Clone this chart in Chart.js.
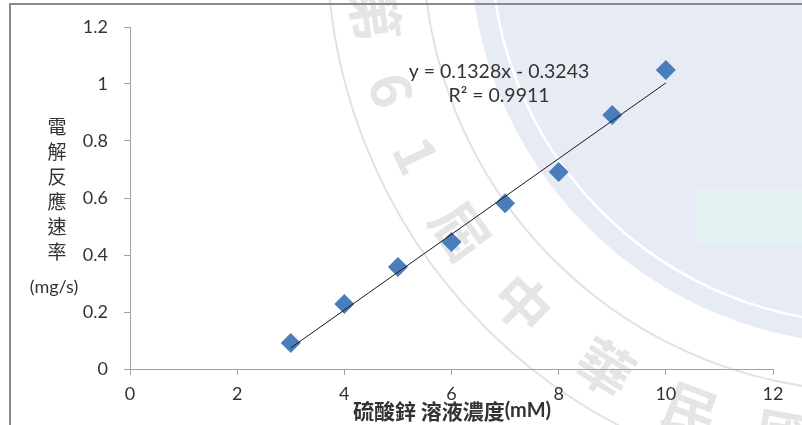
<!DOCTYPE html>
<html>
<head>
<meta charset="utf-8">
<script src="https://cdn.jsdelivr.net/npm/chart.js@4/dist/chart.umd.min.js"></script>
<style>
  html, body { margin: 0; padding: 0; background: #fff; }
  #wrap { width: 802px; height: 425px; }
</style>
</head>
<body>
<div id="wrap"><canvas id="chart" width="802" height="425"></canvas></div>
<script>
// zinc sulfate concentration (mM) vs. electrolysis rate (mg/s)
const concentration = [3, 4, 5, 6, 7, 8, 9, 10];
const rateValues = [0.091, 0.228, 0.358, 0.446, 0.582, 0.691, 0.891, 1.049];

// linear trendline reported on the chart
const slope = 0.1328;
const intercept = -0.3243;
const rSquared = 0.9911;
const trendRange = [3, 10];

const xTickValues = [0, 2, 4, 6, 8, 10, 12];
const xTickLabels = ['0', '2', '4', '6', '8', '10', '12'];
const yTickValues = [0, 0.2, 0.4, 0.6, 0.8, 1, 1.2];
const yTickLabels = ['0', '0.2', '0.4', '0.6', '0.8', '1', '1.2'];

const yTitleChars = ['電', '解', '反', '應', '速', '率'];
const yTitleUnit = '(mg/s)';
const xTitle = '硫酸鋅 溶液濃度';
const xTitleUnit = '(mM)';

// background seal
const sealChars = ['第', '6', '1', '屆', '中', '華', '民', '國'];
const sealAngles = [172, 163, 155, 145, 134, 122, 111, 100];

const axisGray = '#a3a3a3';
const textColor = '#333333';
const numFont = 'Lato, "Open Sans", sans-serif';
const cjkFont = '"Noto Sans CJK TC", "Noto Sans CJK SC", sans-serif';

const points = concentration.map((x, i) => ({ x: x, y: rateValues[i] }));
const trendPoints = trendRange.map(x => ({ x: x, y: slope * x + intercept }));

const backdrop = {
  id: 'backdrop',
  beforeDraw(chart) {
    const ctx = chart.ctx;
    ctx.save();
    ctx.fillStyle = '#fff';
    ctx.fillRect(0, 0, chart.width, chart.height);

    const cx = 870, cy = -56;
    ctx.beginPath();
    ctx.arc(cx, cy, 400, 0, Math.PI * 2);
    ctx.fillStyle = '#e7ebf4';
    ctx.fill();

    ctx.beginPath();
    ctx.arc(cx, cy, 379, 0, Math.PI * 2);
    ctx.strokeStyle = '#ffffff';
    ctx.lineWidth = 2.5;
    ctx.stroke();

    ctx.strokeStyle = '#dfe2ea';
    ctx.lineWidth = 2;
    [447, 543].forEach(r => {
      ctx.beginPath();
      ctx.arc(cx, cy, r, 0, Math.PI * 2);
      ctx.stroke();
    });

    ctx.fillStyle = '#e4f2f2';
    ctx.fillRect(697, 189, 110, 54);

    ctx.fillStyle = 'rgba(0,0,0,0.1)';
    ctx.font = 'bold 56px ' + cjkFont;
    ctx.textAlign = 'center';
    ctx.textBaseline = 'middle';
    sealChars.forEach((ch, i) => {
      const a = sealAngles[i] * Math.PI / 180;
      ctx.save();
      ctx.translate(cx + Math.cos(a) * 500, cy + Math.sin(a) * 500);
      ctx.rotate(a - Math.PI / 2);
      ctx.fillText(ch, 0, 0);
      ctx.restore();
    });
    ctx.restore();
  },
  afterDraw(chart) {
    const ctx = chart.ctx;
    ctx.save();
    // frame
    ctx.strokeStyle = '#8a8a8a';
    ctx.lineWidth = 2;
    ctx.beginPath();
    ctx.moveTo(10, 430);
    ctx.lineTo(10, 4);
    ctx.lineTo(810, 4);
    ctx.stroke();

    ctx.fillStyle = textColor;
    ctx.textAlign = 'center';
    ctx.textBaseline = 'middle';

    // y title, stacked characters
    ctx.font = '19px ' + cjkFont;
    yTitleChars.forEach((ch, i) => ctx.fillText(ch, 57, 127 + i * 25));
    ctx.font = '18px ' + numFont;
    ctx.fillText(yTitleUnit, 54, 287);

    // x title
    ctx.textAlign = 'left';
    ctx.font = 'bold 21px ' + cjkFont;
    const w1 = ctx.measureText(xTitle).width;
    ctx.font = 'bold 20px ' + numFont;
    const w2 = ctx.measureText(xTitleUnit).width;
    const x0 = 452 - (w1 + w2) / 2;
    ctx.font = 'bold 21px ' + cjkFont;
    ctx.fillText(xTitle, x0, 411);
    ctx.font = 'bold 20px ' + numFont;
    ctx.fillText(xTitleUnit, x0 + w1, 411);

    // trendline equation
    ctx.textAlign = 'center';
    ctx.font = '19.5px ' + numFont;
    const sign = intercept < 0 ? ' - ' : ' + ';
    ctx.fillText('y = ' + slope.toFixed(4) + 'x' + sign + Math.abs(intercept).toFixed(4), 499, 72);
    ctx.fillText('R² = ' + rSquared.toFixed(4), 499, 96);
    ctx.restore();
  }
};

new Chart(document.getElementById('chart'), {
  type: 'scatter',
  data: {
    datasets: [
      {
        label: 'trend',
        data: trendPoints,
        showLine: true,
        borderColor: '#1a1a1a',
        borderWidth: 1,
        pointRadius: 0,
        order: 0
      },
      {
        label: 'rate',
        data: points,
        pointStyle: 'rectRot',
        pointRadius: 10,
        backgroundColor: '#4a7ebb',
        borderWidth: 0,
        order: 1
      }
    ]
  },
  options: {
    responsive: false,
    animation: false,
    devicePixelRatio: 1,
    layout: { padding: { top: 27, right: 29, left: 0, bottom: 0 } },
    plugins: { legend: { display: false }, tooltip: { enabled: false } },
    scales: {
      x: {
        type: 'linear',
        min: 0,
        max: 12,
        afterBuildTicks: s => { s.ticks = xTickValues.map(v => ({ value: v })); },
        afterFit: s => { s.height = 56; },
        grid: { drawOnChartArea: false, drawTicks: true, tickLength: 6, color: axisGray },
        border: { color: axisGray, width: 1 },
        ticks: {
          padding: 8,
          color: textColor,
          font: { family: numFont, size: 18 },
          callback: (v, i) => xTickLabels[i]
        }
      },
      y: {
        min: 0,
        max: 1.2,
        afterBuildTicks: s => { s.ticks = yTickValues.map(v => ({ value: v })); },
        afterFit: s => { s.width = 130; },
        grid: { drawOnChartArea: false, drawTicks: true, tickLength: 6, color: axisGray },
        border: { color: axisGray, width: 1 },
        ticks: {
          padding: 16,
          color: textColor,
          font: { family: numFont, size: 18 },
          callback: (v, i) => yTickLabels[i]
        }
      }
    }
  },
  plugins: [backdrop]
});
</script>
</body>
</html>
